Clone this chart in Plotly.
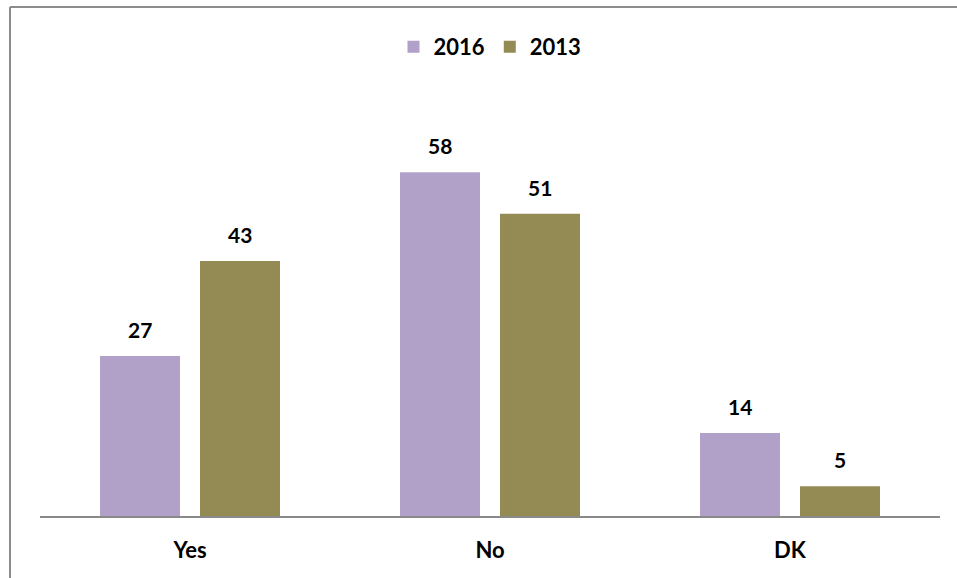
import plotly.graph_objects as go

categories = ["Yes", "No", "DK"]
values_2016 = [27, 58, 14]
values_2013 = [43, 51, 5]
series_names = ["2016", "2013"]
colors = ["#B1A0C7", "#948A54"]

FONT = "Lato"
W, H = 957, 578
L, R, T, B = 40, 17, 101, 62

fig = go.Figure()
for name, vals, col in zip(series_names, [values_2016, values_2013], colors):
    fig.add_trace(go.Bar(
        x=categories, y=vals, name=name, marker=dict(color=col, line=dict(width=0)),
    ))

# value labels above each bar
n = len(series_names)
for si, vals in enumerate([values_2016, values_2013]):
    for ci, v in enumerate(vals):
        fig.add_annotation(
            x=ci, y=v, xref="x", yref="y", text=f"<b>{v}</b>", showarrow=False,
            xshift=(si - (n - 1) / 2) * 100, yanchor="bottom", yshift=12,
            font=dict(family=FONT, size=21, color="#000000"),
        )

pw, ph = W - L - R, H - T - B
def px_to_paper(x, y):
    return (x - L) / pw, (H - B - y) / ph

x0, y0 = px_to_paper(10, 7)
x1, y1 = px_to_paper(965, 590)
fig.add_shape(type="line", xref="paper", yref="paper", x0=x0, y0=y0, x1=x1, y1=y0,
              line=dict(color="#8C8C8C", width=2))
fig.add_shape(type="line", xref="paper", yref="paper", x0=x0, y0=y0, x1=x0, y1=y1,
              line=dict(color="#8C8C8C", width=2))

fig.update_layout(
    width=W, height=H, margin=dict(l=L, r=R, t=T, b=B),
    paper_bgcolor="white", plot_bgcolor="white",
    barmode="group", bargap=1 / 3, bargroupgap=0.2,
    showlegend=True,
    legend=dict(orientation="h", x=0.5, xanchor="center", y=px_to_paper(0, 47)[1], yanchor="middle",
                font=dict(family=FONT, size=22, color="#000000", weight="bold"),
                itemwidth=30, traceorder="normal"),
    xaxis=dict(showline=True, linecolor="#898989", linewidth=2, ticks="",
               tickfont=dict(family=FONT, size=22, color="#000000", weight="bold"),
               ticklabelstandoff=14,
               showgrid=False, zeroline=False),
    yaxis=dict(range=[0, 70], visible=False, showgrid=False, zeroline=False),
)

fig.write_html("out.html")
